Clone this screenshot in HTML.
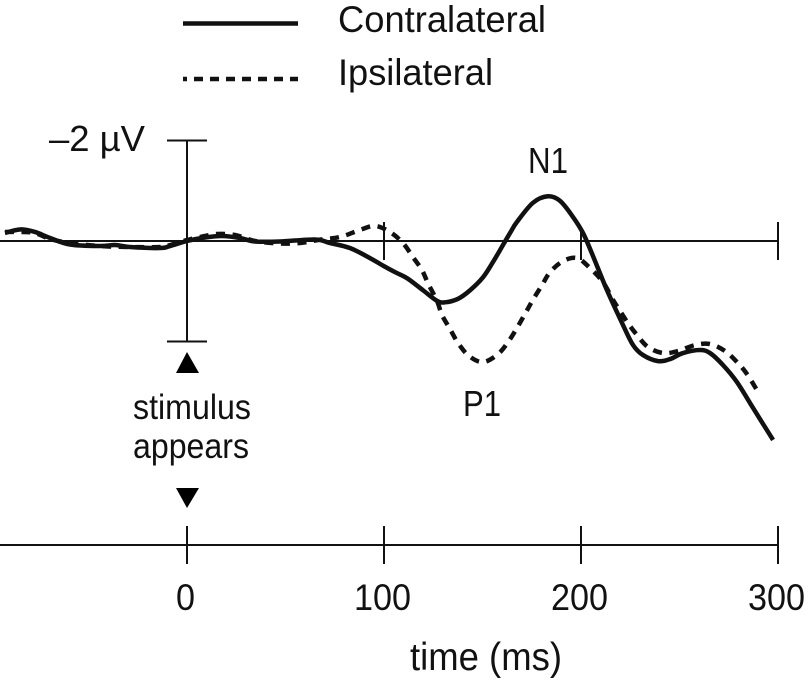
<!DOCTYPE html>
<html lang="en">
<head>
<meta charset="utf-8">
<title>Contralateral and ipsilateral ERP waveforms</title>
<style>
html,body{margin:0;padding:0;background:#fff;width:810px;height:683px;overflow:hidden}
svg{display:block;font-family:"Liberation Sans",sans-serif;fill:#111}
text{fill:#111}
</style>
</head>
<body>
<svg id="chart" xmlns="http://www.w3.org/2000/svg" width="810" height="683" viewBox="0 0 810 683">
  <rect width="810" height="683" fill="#fff"/>
  <g>
    <line x1="183" x2="298" y1="23.5" y2="23.5" stroke="#111" stroke-width="4.5"/>
    <text x="338" y="32" font-size="37" textLength="208" lengthAdjust="spacingAndGlyphs">Contralateral</text>
    <line x1="183" x2="298" y1="79" y2="79" stroke="#111" stroke-width="4.5" stroke-dasharray="4 7 9 7 9 7 9 7 9 7 9 7 9 7 9 7 4"/>
    <text x="338" y="85" font-size="37" textLength="155" lengthAdjust="spacingAndGlyphs">Ipsilateral</text>
  </g>
  <text x="49" y="151" font-size="36" textLength="96" lengthAdjust="spacingAndGlyphs">–2 µV</text>
  <text x="528" y="173" font-size="36" textLength="40" lengthAdjust="spacingAndGlyphs">N1</text>
  <text x="463" y="416" font-size="36" textLength="38" lengthAdjust="spacingAndGlyphs">P1</text>
  <text x="133" y="419" font-size="35" textLength="118" lengthAdjust="spacingAndGlyphs">stimulus</text>
  <text x="133" y="458" font-size="35" textLength="116" lengthAdjust="spacingAndGlyphs">appears</text>
  <polygon points="187,352 199,373 176,373" fill="#000"/>
  <polygon points="176,488 199,488 187,508" fill="#000"/>
  <text x="410" y="670" font-size="39" textLength="152" lengthAdjust="spacingAndGlyphs">time (ms)</text>
  <g id="axes"></g>
  <g id="series"></g>
</svg>
<script>
const contraTimes = [-92.4,-84.8,-77.2,-69.5,-59.4,-44.2,-36.5,-28.9,-13.7,-8.6,0,9.1,17.8,26.9,34.5,47.2,65,72.6,82.7,92.9,99.5,105.6,111.7,119.8,126.9,131,137.6,143.7,150.3,155.3,160.4,164,167.5,175.6,183.2,189.3,195.9,201,206.1,213.2,221.3,226.4,231.5,239.1,245.2,251.8,260.4,265.5,272.1,279.2,287.3,297.5];
const contraValues = [-0.16,-0.23,-0.18,-0.06,0.07,0.10,0.08,0.12,0.14,0.10,0,-0.07,-0.10,-0.06,0.01,0.01,-0.03,0.04,0.14,0.34,0.49,0.62,0.74,0.98,1.19,1.22,1.15,0.98,0.72,0.42,0.08,-0.16,-0.38,-0.76,-0.89,-0.80,-0.48,-0.16,0.30,0.98,1.67,2.07,2.27,2.39,2.35,2.23,2.17,2.23,2.47,2.81,3.32,3.96];
const ipsiTimes = [-92.4,-84.8,-77.2,-69.5,-59.4,-44.2,-28.9,-13.7,-8.6,0,9.1,15.2,24.4,34.5,47.2,57.4,66.5,77.7,87.8,95.4,103,109.6,114.7,119.3,122.3,126.9,129.4,133.5,137.6,143.2,150.3,157.9,163,167.5,171.6,175.6,180.2,184.3,190.9,198,204.6,211.2,216.2,218.8,223.4,228.4,234,241.6,249.2,257.9,265.5,273.1,279.2,284.3,289.8];
const ipsiValues = [-0.18,-0.18,-0.16,-0.04,0.04,0.10,0.12,0.12,0.08,-0.02,-0.10,-0.14,-0.12,0,0.05,0.04,-0.02,-0.08,-0.22,-0.30,-0.18,0.04,0.32,0.58,0.84,1.19,1.47,1.75,2.03,2.29,2.41,2.25,2.01,1.73,1.45,1.17,0.88,0.62,0.40,0.34,0.54,0.82,1.17,1.33,1.61,1.87,2.11,2.23,2.19,2.07,2.05,2.19,2.41,2.65,3.0];
const timeTicks = [0,100,200,300];
const timeTickLabels = ["0","100","200","300"];

const NS = "http://www.w3.org/2000/svg";
const xScale = t => 187 + t * 1.97;
const yScale = v => 241 + v * 50.25;
const axes = document.getElementById("axes");
const series = document.getElementById("series");

function segment(x1, y1, x2, y2) {
  const el = document.createElementNS(NS, "line");
  el.setAttribute("x1", x1);
  el.setAttribute("y1", y1);
  el.setAttribute("x2", x2);
  el.setAttribute("y2", y2);
  el.setAttribute("stroke", "#111");
  el.setAttribute("stroke-width", "2");
  axes.appendChild(el);
  return el;
}

const baseline = segment(0, yScale(0), xScale(300), yScale(0));


const scaleBar = segment(xScale(0), yScale(-2), xScale(0), yScale(2));


const capTop = segment(xScale(0) - 20, yScale(-2), xScale(0) + 20, yScale(-2));


const capBottom = segment(xScale(0) - 20, yScale(2), xScale(0) + 20, yScale(2));


const timeAxis = segment(0, 545, xScale(300), 545);



timeTicks.forEach((t, i) => {
  const x = xScale(t);
  if (t > 0) {
    const top = t === 200 ? 228 : 222;
    const upper = segment(x, top, x, 260);
    
    
  }
  const lower = segment(x, 526, x, 564);
  
  
  const label = document.createElementNS(NS, "text");
  
  
  label.setAttribute("x", x - 1.5);
  label.setAttribute("y", 610);
  label.setAttribute("font-size", "37");
  label.setAttribute("text-anchor", "middle");
  label.setAttribute("textLength", timeTickLabels[i].length * 19);
  label.setAttribute("lengthAdjust", "spacingAndGlyphs");
  label.textContent = timeTickLabels[i];
  axes.appendChild(label);
});

function smoothPath(times, values) {
  const p = times.map((t, i) => [xScale(t), yScale(values[i])]);
  let d = "M" + p[0][0].toFixed(2) + " " + p[0][1].toFixed(2);
  for (let i = 0; i < p.length - 1; i++) {
    const a = p[Math.max(i - 1, 0)], b = p[i], c = p[i + 1], e = p[Math.min(i + 2, p.length - 1)];
    const c1x = b[0] + (c[0] - a[0]) / 6, c1y = b[1] + (c[1] - a[1]) / 6;
    const c2x = c[0] - (e[0] - b[0]) / 6, c2y = c[1] - (e[1] - b[1]) / 6;
    d += "C" + c1x.toFixed(2) + " " + c1y.toFixed(2) + " " + c2x.toFixed(2) + " " + c2y.toFixed(2) + " " + c[0].toFixed(2) + " " + c[1].toFixed(2);
  }
  return d;
}

const ipsiLine = document.createElementNS(NS, "path");


ipsiLine.setAttribute("d", smoothPath(ipsiTimes, ipsiValues));
ipsiLine.setAttribute("fill", "none");
ipsiLine.setAttribute("stroke", "#111");
ipsiLine.setAttribute("stroke-width", "4.5");
ipsiLine.setAttribute("stroke-dasharray", "9 7.5");
series.appendChild(ipsiLine);

const contraLine = document.createElementNS(NS, "path");


contraLine.setAttribute("d", smoothPath(contraTimes, contraValues));
contraLine.setAttribute("fill", "none");
contraLine.setAttribute("stroke", "#111");
contraLine.setAttribute("stroke-width", "4.5");
series.appendChild(contraLine);
</script>
</body>
</html>
